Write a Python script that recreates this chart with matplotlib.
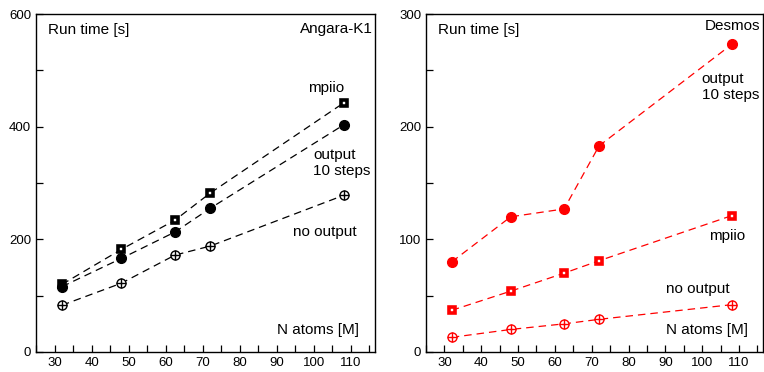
import matplotlib
matplotlib.use("Agg")
import matplotlib.pyplot as plt
from matplotlib.ticker import MultipleLocator

plt.rcParams['font.family'] = ['Liberation Sans', 'DejaVu Sans']

n_atoms = [32, 48, 62.5, 72, 108]

# Angara-K1
ang_mpiio = [120, 182, 234, 282, 442]
ang_output = [116, 166, 213, 255, 403]
ang_noout = [83, 122, 172, 188, 278]

# Desmos
des_output = [80, 120, 127, 183, 273]
des_mpiio = [37, 54, 70, 81, 121]
des_noout = [13, 20, 25, 29, 42]

fig = plt.figure(figsize=(7.64, 3.72), dpi=100)
ax1 = fig.add_axes([36/764, 20/372, 339/764, 338/372])
ax2 = fig.add_axes([426/764, 20/372, 337/764, 338/372])


def series(ax, y, color, kind):
    ax.plot(n_atoms, y, color=color, lw=0.9, dashes=(6, 4), zorder=1)
    if kind == 'square':
        ax.plot(n_atoms, y, ls='none', marker='s', ms=5, mfc='white',
                mec=color, mew=2.6, zorder=3)
    elif kind == 'dot':
        ax.plot(n_atoms, y, ls='none', marker='o', ms=7, mfc=color,
                mec=color, zorder=3)
    else:
        ax.plot(n_atoms, y, ls='none', marker='o', ms=6.5, mfc='white',
                mec=color, mew=1.0, zorder=3)
        ax.plot(n_atoms, y, ls='none', marker='+', ms=6.5, mec=color,
                mew=1.0, zorder=4)


def style(ax, ymax, ymaj, ymin):
    ax.set_xlim(25, 116.5)
    ax.set_ylim(0, ymax)
    ax.xaxis.set_major_locator(MultipleLocator(10))
    ax.xaxis.set_minor_locator(MultipleLocator(5))
    ax.yaxis.set_major_locator(MultipleLocator(ymaj))
    ax.yaxis.set_minor_locator(MultipleLocator(ymin))
    ax.tick_params(which='both', direction='in', labelsize=9.5,
                   color='black', width=0.9, length=5)
    for s in ax.spines.values():
        s.set_linewidth(1.0)


series(ax1, ang_mpiio, 'black', 'square')
series(ax1, ang_output, 'black', 'dot')
series(ax1, ang_noout, 'black', 'plus')
style(ax1, 600, 200, 100)
fs = 11
ax1.text(28.2, 572, 'Run time [s]', fontsize=fs, va='center')
ax1.text(115.8, 573, 'Angara-K1', fontsize=fs, va='center', ha='right')
ax1.text(98.5, 469, 'mpiio', fontsize=fs, va='center')
ax1.text(99.9, 335, 'output\n10 steps', fontsize=fs, va='center', linespacing=1.2)
ax1.text(94.5, 213, 'no output', fontsize=fs, va='center')
ax1.text(90.1, 39, 'N atoms [M]', fontsize=fs, va='center')

series(ax2, des_output, 'red', 'dot')
series(ax2, des_mpiio, 'red', 'square')
series(ax2, des_noout, 'red', 'plus')
style(ax2, 300, 100, 50)
ax2.text(28.2, 286, 'Run time [s]', fontsize=fs, va='center')
ax2.text(115.8, 289, 'Desmos', fontsize=fs, va='center', ha='right')
ax2.text(99.9, 235, 'output\n10 steps', fontsize=fs, va='center', linespacing=1.2)
ax2.text(101.8, 103, 'mpiio', fontsize=fs, va='center')
ax2.text(90.1, 56, 'no output', fontsize=fs, va='center')
ax2.text(90.1, 19.5, 'N atoms [M]', fontsize=fs, va='center')

fig.savefig('out.png', dpi=100)
